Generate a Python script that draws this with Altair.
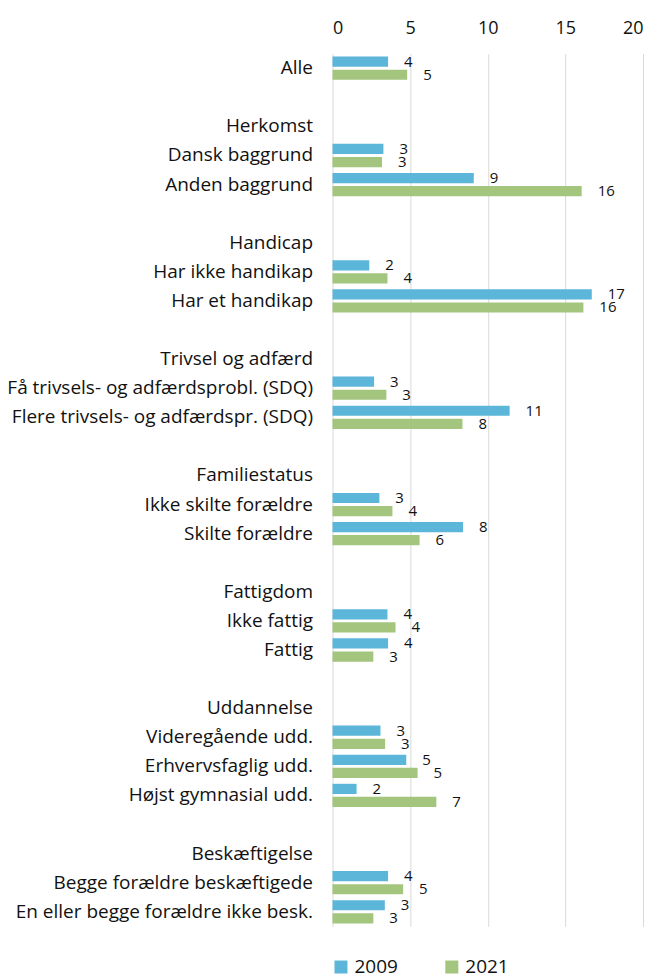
import altair as alt
import pandas as pd

rows = [
    "Alle", "",
    "Herkomst", "Dansk baggrund", "Anden baggrund", "",
    "Handicap", "Har ikke handikap", "Har et handikap", "",
    "Trivsel og adfærd", "Få trivsels- og adfærdsprobl. (SDQ)", "Flere trivsels- og adfærdspr. (SDQ)", "",
    "Familiestatus", "Ikke skilte forældre", "Skilte forældre", "",
    "Fattigdom", "Ikke fattig", "Fattig", "",
    "Uddannelse", "Videregående udd.", "Erhvervsfaglig udd.", "Højst gymnasial udd.", "",
    "Beskæftigelse", "Begge forældre beskæftigede", "En eller begge forældre ikke besk.",
]

bar_cats = [
    "Alle", "Dansk baggrund", "Anden baggrund", "Har ikke handikap", "Har et handikap",
    "Få trivsels- og adfærdsprobl. (SDQ)", "Flere trivsels- og adfærdspr. (SDQ)",
    "Ikke skilte forældre", "Skilte forældre", "Ikke fattig", "Fattig",
    "Videregående udd.", "Erhvervsfaglig udd.", "Højst gymnasial udd.",
    "Begge forældre beskæftigede", "En eller begge forældre ikke besk.",
]

v2009 = [3.58, 3.28, 9.10, 2.37, 16.70, 2.68, 11.41, 3.02, 8.41, 3.54, 3.58, 3.09, 4.75, 1.55, 3.58, 3.37]
v2021 = [4.81, 3.19, 16.05, 3.54, 16.16, 3.47, 8.37, 3.86, 5.61, 4.06, 2.63, 3.39, 5.48, 6.69, 4.55, 2.63]

years = ["2009", "2021"]
colors = ["#5bb6d9", "#a3c57e"]

keys = [f"{i:02d}|{r}" for i, r in enumerate(rows)]
key_of = {r: k for r, k in zip(rows, keys) if r}

records = []
for c, a, b in zip(bar_cats, v2009, v2021):
    records.append({"key": key_of[c], "year": "2009", "value": a})
    records.append({"key": key_of[c], "year": "2021", "value": b})
df = pd.DataFrame(records)

FONT = "Open Sans"

base = alt.Chart(df).encode(
    y=alt.Y(
        "key:N",
        sort=keys,
        scale=alt.Scale(domain=keys, paddingInner=0.2, paddingOuter=0.1),
        axis=alt.Axis(
            title=None,
            labelExpr="split(datum.value, '|')[1]",
            domain=False,
            ticks=False,
            grid=False,
            labelFont=FONT,
            labelFontSize=19,
            labelColor="#111111",
            labelPadding=20,
            labelLimit=600,
        ),
    ),
    yOffset=alt.YOffset("year:N", sort=years, scale=alt.Scale(paddingInner=0.22)),
    x=alt.X(
        "value:Q",
        scale=alt.Scale(domain=[0, 20]),
        axis=alt.Axis(
            title=None,
            orient="top",
            values=[0, 5, 10, 15, 20],
            domain=False,
            ticks=False,
            grid=True,
            gridColor="#d9d9d9",
            gridWidth=1,
            labelFont=FONT,
            labelFontSize=18,
            labelColor="#111111",
            labelPadding=16,
        ),
    ),
)

bars = base.mark_bar().encode(
    color=alt.Color(
        "year:N",
        scale=alt.Scale(domain=years, range=colors),
        legend=alt.Legend(
            title=None,
            orient="none",
            direction="horizontal",
            legendX=-1,
            legendY=905,
            symbolType="square",
            symbolSize=169,
            symbolStrokeWidth=0,
            symbolOpacity=1,
            labelFont=FONT,
            labelFontSize=19,
            labelColor="#111111",
            labelOffset=4,
            columnPadding=44,
            padding=0,
        ),
    )
)

labels = base.mark_text(align="left", baseline="middle", dx=16, font=FONT, fontSize=15, color="#111111").encode(
    text=alt.Text("value:Q", format=".0f")
)

chart = alt.layer(bars, labels).properties(
    width=311,
    height=874,
    autosize=alt.AutoSizeParams(type="none"),
    padding={"left": 325, "top": 45, "right": 5, "bottom": 60},
).configure_view(stroke=None)

chart.save("out.html", embed_options={"renderer": "svg", "actions": False})
